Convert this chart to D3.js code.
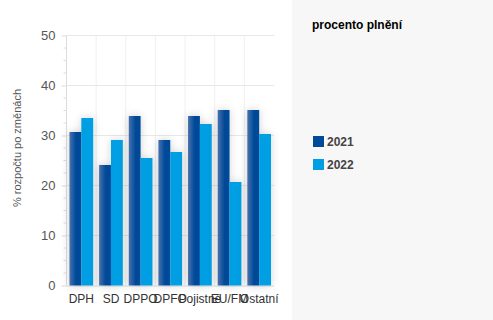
<!DOCTYPE html>
<html><head><meta charset="utf-8">
<script src="https://cdn.jsdelivr.net/npm/d3@7"></script>
<style>
html,body{margin:0;padding:0;background:#fff;}
svg{display:block;font-family:"Liberation Sans",Arial,sans-serif;}
</style></head>
<body>
<svg id="c" width="493" height="320"></svg>
<script>
const categories = ["DPH","SD","DPPO","DPFO","Pojistné","EU/FM","Ostatní"];
const seriesNames = ["2021","2022"];
const values2021 = [30.7,24.1,33.9,29.1,33.9,35.1,35.1];
const values2022 = [33.5,29.1,25.5,26.7,32.3,20.7,30.3];
const yTicks = [0,10,20,30,40,50];
const colors = ["#004a99","#009ee3"];

(function(){
const svg = d3.select("#c");
const defs = svg.append("defs");
const g1 = defs.append("linearGradient").attr("id","g2021").attr("x1","0").attr("x2","1").attr("y1","0").attr("y2","0");
g1.append("stop").attr("offset","0").attr("stop-color","#4a72ad");
g1.append("stop").attr("offset","0.55").attr("stop-color","#004a99");
g1.append("stop").attr("offset","1").attr("stop-color","#004a99");
const f = defs.append("filter").attr("id","sh").attr("x","-50%").attr("y","-20%").attr("width","200%").attr("height","140%");
f.append("feGaussianBlur").attr("in","SourceAlpha").attr("stdDeviation","4").attr("result","b");
f.append("feFlood").attr("flood-color","#000").attr("flood-opacity","0.18");
f.append("feComposite").attr("in2","b").attr("operator","in").attr("result","s");
const fm = f.append("feMerge");
fm.append("feMergeNode").attr("in","s");
fm.append("feMergeNode").attr("in","SourceGraphic");

svg.append("rect").attr("x",292).attr("y",0).attr("width",201).attr("height",320).attr("fill","#f7f7f7");

const pL=66.5, pR=274, pT=35.5, pB=285.5;
const x = d3.scaleBand().domain(categories).range([pL,pR]).paddingInner(0.2).paddingOuter(0.1);
const xs = d3.scaleBand().domain(seriesNames).range([0,x.bandwidth()]);
const y = d3.scaleLinear().domain([0,50]).range([pB,pT]);

const step = x.step();
for(let i=1;i<categories.length;i++){
  svg.append("line").attr("x1",pL+i*step).attr("x2",pL+i*step).attr("y1",pT).attr("y2",pB).attr("stroke","#f0f0f0");
}
svg.append("g").selectAll("line").data(yTicks.slice(1)).join("line")
  .attr("x1",pL).attr("x2",pR).attr("y1",d=>y(d)).attr("y2",d=>y(d)).attr("stroke","#e8e8e8");

const yAxis = d3.axisLeft(y).tickValues(yTicks).tickSize(5).tickPadding(6);
const ya = svg.append("g").attr("transform",`translate(${pL},0)`).call(yAxis);
ya.select(".domain").attr("stroke","#dcdcdc").attr("d",`M0,${pT}V${pB}`);
ya.selectAll(".tick line").attr("stroke","#dcdcdc");
ya.selectAll(".tick text").attr("fill","#555").attr("font-size","13px").attr("font-family","Liberation Sans, Arial, sans-serif");
const minor = d3.range(0,50.01,2.5).filter(v=>v%10!==0);
svg.append("g").selectAll("line").data(minor).join("line")
  .attr("x1",pL-3).attr("x2",pL).attr("y1",d=>y(d)).attr("y2",d=>y(d)).attr("stroke","#dcdcdc");

svg.append("line").attr("x1",pL).attr("x2",pR).attr("y1",pB+0.5).attr("y2",pB+0.5).attr("stroke","#dcdcdc");

const data = categories.map((c,i)=>({c, v:[values2021[i],values2022[i]]}));
const groups = svg.append("g").selectAll("g").data(data).join("g")
  .attr("transform",d=>`translate(${x(d.c)},0)`).attr("filter","url(#sh)");
groups.selectAll("rect").data(d=>d.v.map((v,k)=>({s:seriesNames[k],v,k}))).join("rect")
  .attr("x",d=>xs(d.s)).attr("width",xs.bandwidth())
  .attr("y",d=>y(d.v)).attr("height",d=>y(0)-y(d.v))
  .attr("fill",d=>d.k===0?"url(#g2021)":colors[1]);

svg.append("g").selectAll("text").data(categories).join("text")
  .attr("x",d=>x(d)+x.bandwidth()/2).attr("y",303)
  .attr("text-anchor","middle").attr("font-size","12px").attr("fill","#333").text(d=>d);

svg.append("text").attr("transform","translate(21,148) rotate(-90)").attr("text-anchor","middle")
  .attr("font-size","11px").attr("fill","#555").text("% rozpočtu po změnách");

svg.append("text").attr("x",312).attr("y",29).attr("font-size","12px").attr("font-weight","bold").attr("fill","#000").text("procento plnění");
const lg = svg.append("g").selectAll("g").data(seriesNames).join("g")
  .attr("transform",(d,i)=>`translate(313,${136+i*23})`);
lg.append("rect").attr("width",11).attr("height",11).attr("fill",(d,i)=>colors[i]);
lg.append("text").attr("x",14).attr("y",10).attr("font-size","12px").attr("font-weight","bold").attr("fill","#444").text(d=>d);
})();
</script>
</body></html>
